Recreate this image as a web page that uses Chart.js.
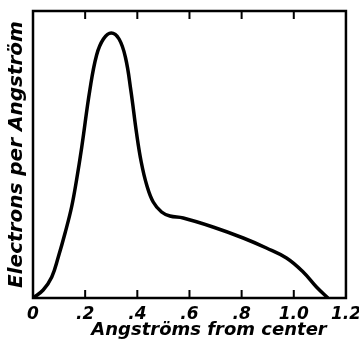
<!DOCTYPE html>
<html>
<head>
<meta charset="utf-8">
<script src="https://cdn.jsdelivr.net/npm/chart.js@4"></script>
<style>
  html, body { margin: 0; padding: 0; background: #fff; }
  #wrap { width: 359px; height: 343px; }
</style>
</head>
<body>
<div id="wrap"><canvas id="chart"></canvas></div>
<script>
// distance from center (Angstrom)
const distance = [0, 0.039, 0.072, 0.097, 0.123, 0.148, 0.167, 0.187, 0.218, 0.244, 0.27,
  0.30, 0.33, 0.355, 0.375, 0.397, 0.415, 0.436, 0.461, 0.493, 0.525, 0.576, 0.69,
  0.806, 0.895, 0.972, 1.036, 1.087, 1.131];
// electron density (arbitrary units)
const density = [0, 8, 21, 41, 65, 91, 118, 151, 208, 243, 259,
  265, 259, 240, 208, 165, 136, 113, 96, 86, 82, 80, 71,
  60, 50, 40, 26, 11, 0];
const xTickLabels = ['0', '.2', '.4', '.6', '.8', '1.0', '1.2'];
const xTitle = 'Angströms from center';

const handFont = "'DejaVu Sans', sans-serif";

// 테두리 + 안쪽 눈금 + x축 제목
const frame = {
  id: 'frame',
  afterDraw(chart) {
    const ctx = chart.ctx;
    const a = chart.chartArea;
    const xs = chart.scales.x;
    ctx.save();
    ctx.strokeStyle = '#000';
    ctx.lineWidth = 2.5;
    ctx.strokeRect(a.left, a.top, a.right - a.left, a.bottom - a.top);
    ctx.lineWidth = 2;
    for (let i = 1; i < xTickLabels.length - 1; i++) {
      const px = xs.getPixelForValue(i * 0.2);
      ctx.beginPath();
      ctx.moveTo(px, a.bottom);
      ctx.lineTo(px, a.bottom - 8);
      ctx.moveTo(px, a.top);
      ctx.lineTo(px, a.top + 8);
      ctx.stroke();
    }
    // 제목은 오른쪽으로 치우쳐 있음
    ctx.fillStyle = '#000';
    ctx.font = "italic bold 18px " + handFont;
    ctx.textAlign = 'center';
    ctx.textBaseline = 'middle';
    ctx.fillText(xTitle, xs.getPixelForValue(0.675), 330);
    ctx.restore();
  }
};

new Chart(document.getElementById('chart'), {
  type: 'line',
  data: {
    datasets: [{
      data: distance.map((d, i) => ({ x: d, y: density[i] })),
      borderColor: '#000',
      borderWidth: 3.5,
      pointRadius: 0,
      tension: 0.4,
      fill: false
    }]
  },
  options: {
    responsive: true,
    maintainAspectRatio: false,
    animation: false,
    layout: { padding: { top: 11, right: 13, left: 0, bottom: 0 } },
    plugins: { legend: { display: false }, tooltip: { enabled: false } },
    scales: {
      x: {
        type: 'linear',
        min: 0,
        max: 1.2,
        afterBuildTicks: (s) => { s.ticks = xTickLabels.map((t, i) => ({ value: i * 0.2 })); },
        afterFit: (s) => { s.height = 45; },
        grid: { display: false },
        border: { display: false },
        ticks: {
          color: '#000',
          padding: -2,
          maxRotation: 0,
          font: { family: handFont, size: 17, style: 'italic', weight: 'bold' },
          callback: (v, i) => xTickLabels[i]
        }
      },
      y: {
        min: 0,
        max: 287,
        afterFit: (s) => { s.width = 33; },
        grid: { display: false },
        border: { display: false },
        ticks: { display: false },
        title: {
          display: true,
          text: 'Electrons per Angström',
          color: '#000',
          padding: { top: 5, bottom: 0 },
          font: { family: handFont, size: 20, style: 'italic', weight: 'bold' }
        }
      }
    }
  },
  plugins: [frame]
});
</script>
</body>
</html>
